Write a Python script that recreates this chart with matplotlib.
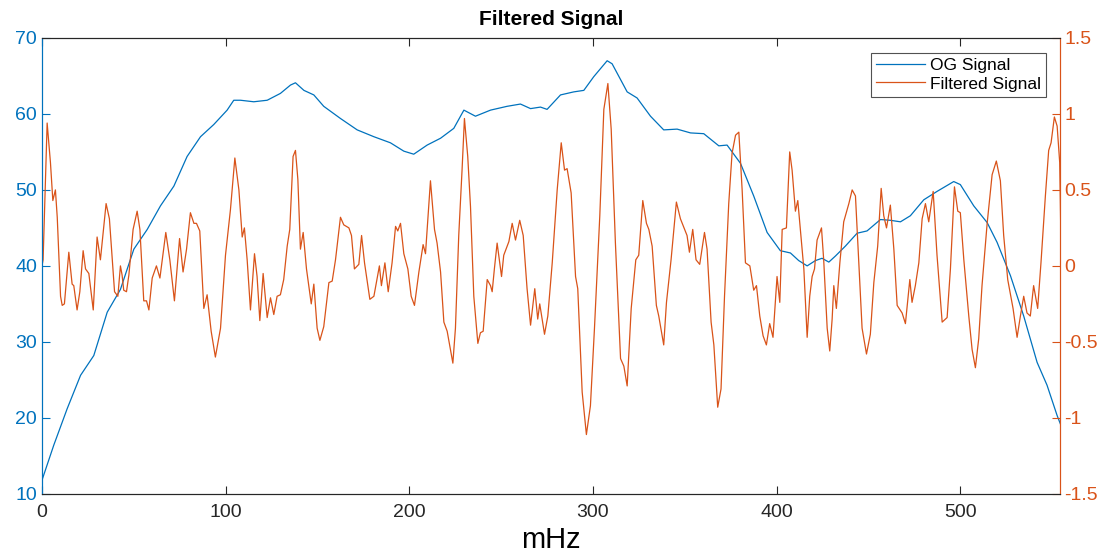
import numpy as np
import matplotlib.pyplot as plt

plt.rcParams['font.family'] = ['Liberation Sans', 'DejaVu Sans']

# OG signal (left axis)
og_x = [0, 6.4, 13.7, 21, 28.2, 35.5, 42.7, 50, 57.3, 64.5, 71.8, 79, 86.3, 93.5,
        100.8, 104.4, 108.1, 115.3, 122.6, 129.8, 135.3, 138, 142.6, 148, 153.4,
        162.5, 171.6, 180.7, 189.7, 197, 202.4, 209.7, 217, 224.2, 229.7, 236,
        244.2, 253.2, 260.5, 266, 271.4, 275, 282.3, 289.5, 295, 300.4, 307.7,
        310.4, 318.6, 324, 331.3, 338.5, 345.8, 353.1, 360.3, 368.5, 373, 380.3,
        387.5, 394.8, 402, 407.5, 412, 416.6, 421.1, 424.7, 428.4, 432, 437.4,
        443.8, 449.2, 456.5, 461.9, 467.4, 472.8, 480.1, 487.3, 496.4, 500,
        507.3, 514.6, 520, 527.3, 534.5, 541.8, 547.2, 552.7, 554.8]
og_y = [11.8, 16.4, 21.2, 25.6, 28.2, 33.9, 36.9, 42.2, 44.8, 47.9, 50.5, 54.4,
        57.0, 58.6, 60.5, 61.8, 61.8, 61.6, 61.8, 62.7, 63.8, 64.1, 63.1, 62.5,
        61.0, 59.4, 57.9, 57.0, 56.2, 55.1, 54.7, 55.9, 56.8, 58.1, 60.5, 59.7,
        60.5, 61.0, 61.3, 60.7, 60.9, 60.6, 62.5, 62.9, 63.1, 64.9, 67.0, 66.6,
        62.9, 62.1, 59.7, 57.9, 58.0, 57.5, 57.4, 55.8, 55.9, 53.5, 49.2, 44.4,
        42.0, 41.7, 40.7, 40.0, 40.7, 41.0, 40.5, 41.3, 42.6, 44.3, 44.6, 46.1,
        46.0, 45.8, 46.6, 48.7, 49.8, 51.1, 50.7, 47.9, 45.7, 43.1, 38.7, 33.4,
        27.3, 24.3, 20.3, 19.0]

# Filtered signal (right axis)
flt_x = [0, 0.6, 2.8, 4.6, 5.9, 7.3, 8.3, 10.1, 11, 12.2, 14.6, 16.4, 17.3, 19.1,
         20.6, 22.4, 23.7, 25.5, 27.9, 30, 31.8, 34.9, 36.7, 39.5, 41.3, 42.7,
         43.6, 44.5, 46, 47.3, 49.6, 51.8, 53.3, 55.4, 56.9, 58.2, 60, 62.3, 64.2,
         67.4, 69.6, 72.1, 74.9, 76.8, 78.7, 80.8, 82.7, 84.1, 85.9, 88.1, 89.9,
         92.1, 94.4, 97.2, 99.9, 102.6, 105, 107.2, 109, 110.2, 111.7, 113.5,
         115.7, 117.1, 118.6, 120.4, 122.6, 124.4, 126.2, 128, 129.8, 131.6,
         133.5, 134.9, 136.7, 138, 139.3, 140.7, 142.2, 144, 146.6, 148, 149.8,
         151.3, 153.4, 156.2, 158, 159.8, 162.5, 164.3, 167.1, 168.5, 170.1,
         172.5, 174, 175.6, 178.5, 180.7, 183.7, 184.8, 186.7, 188.5, 190.6,
         192.5, 193.7, 195.2, 197, 199.2, 201, 202.8, 205.2, 207.5, 208.8, 211.5,
         213.7, 215.1, 217, 218.8, 220.6, 223.7, 225.1, 226.9, 228.7, 230, 231.8,
         233.3, 235.1, 237.3, 238.7, 240.2, 242.4, 244.2, 245.1, 246.3, 247.8,
         250.2, 251.4, 254.2, 256, 257.8, 260.1, 262, 264.1, 266, 268.3, 269.9,
         271, 273.6, 275.4, 277.8, 280.5, 282.7, 284.5, 285.9, 288.1, 290.5,
         291.7, 294.1, 296.4, 298.6, 300.8, 303.7, 305.9, 308.1, 309.9, 312.2,
         315, 316.8, 318.6, 320.8, 323.3, 324.9, 327.1, 329.1, 330.4, 332.2,
         334.5, 335.8, 338.5, 340, 342.5, 345.4, 347.6, 351.2, 352.5, 354.3,
         356.1, 358.1, 360.7, 362.1, 364.3, 365.8, 367.9, 369.7, 371.6, 373.9,
         375.7, 377.6, 379.4, 381.2, 383, 385.4, 387.5, 389, 390.8, 392.6, 394.4,
         396.2, 398, 400.2, 401.7, 403, 405.3, 407.1, 408.4, 410.2, 411.5, 412.9,
         414.8, 416.6, 418, 419.3, 420.6, 422, 424.4, 425.6, 427.5, 428.9, 430.2,
         431.1, 432.5, 434.4, 436.5, 439.3, 441.1, 442.9, 444.7, 446.5, 448.9,
         451, 452.9, 455, 456.9, 458.3, 459.8, 461.9, 463.8, 465.6, 468.3, 470.1,
         472.5, 473.7, 475.5, 477.4, 479.2, 481, 482.8, 485.2, 487.3, 490.1,
         492.8, 494.6, 496.8, 498.6, 500, 501.9, 504.6, 506.4, 508.2, 510, 511.8,
         514.6, 517.3, 519.6, 521.8, 523.6, 525.8, 528.7, 530.9, 532.7, 534.5,
         536.3, 538.1, 539.9, 542.1, 543.9, 546.3, 548.1, 549.4, 551.2, 552.7,
         554.1, 554.8]
flt_y = [0.0, 0.04, 0.94, 0.68, 0.43, 0.50, 0.32, -0.20, -0.26, -0.25, 0.09, -0.12,
         -0.13, -0.29, -0.17, 0.10, -0.02, -0.05, -0.29, 0.19, 0.04, 0.41, 0.31,
         -0.17, -0.20, 0.0, -0.06, -0.16, -0.17, -0.06, 0.24, 0.36, 0.24, -0.23,
         -0.23, -0.29, -0.08, 0.0, -0.08, 0.22, 0.04, -0.23, 0.18, -0.04, 0.11,
         0.35, 0.28, 0.28, 0.23, -0.28, -0.19, -0.43, -0.60, -0.41, 0.07, 0.37,
         0.71, 0.50, 0.19, 0.25, 0.04, -0.29, 0.08, -0.07, -0.36, -0.05, -0.34,
         -0.21, -0.32, -0.20, -0.19, -0.09, 0.13, 0.24, 0.72, 0.76, 0.57, 0.11,
         0.22, -0.02, -0.25, -0.12, -0.41, -0.49, -0.40, -0.11, -0.10, 0.04,
         0.32, 0.27, 0.25, 0.20, -0.02, 0.01, 0.20, 0.02, -0.22, -0.20, 0.0,
         -0.13, 0.02, -0.17, 0.02, 0.26, 0.23, 0.28, 0.08, -0.02, -0.20, -0.26,
         -0.04, 0.14, 0.08, 0.56, 0.24, 0.15, -0.04, -0.37, -0.43, -0.64, -0.41,
         0.20, 0.63, 0.97, 0.72, 0.39, -0.20, -0.51, -0.44, -0.43, -0.09, -0.13,
         -0.17, -0.02, 0.15, -0.07, 0.07, 0.16, 0.28, 0.17, 0.30, 0.20, -0.15,
         -0.39, -0.15, -0.35, -0.25, -0.45, -0.33, 0.02, 0.50, 0.81, 0.63, 0.64,
         0.48, -0.07, -0.15, -0.83, -1.11, -0.92, -0.41, 0.33, 1.03, 1.20, 0.90,
         0.15, -0.61, -0.66, -0.79, -0.28, 0.04, 0.07, 0.43, 0.28, 0.24, 0.13,
         -0.26, -0.33, -0.52, -0.24, 0.04, 0.42, 0.31, 0.20, 0.09, 0.24, 0.04,
         0.01, 0.22, 0.11, -0.37, -0.52, -0.93, -0.81, -0.20, 0.41, 0.74, 0.86,
         0.88, 0.50, 0.02, 0.0, -0.16, -0.13, -0.33, -0.46, -0.52, -0.38, -0.47,
         -0.07, -0.24, 0.24, 0.25, 0.75, 0.63, 0.36, 0.43, 0.24, -0.02, -0.47,
         -0.20, -0.07, -0.02, 0.17, 0.25, 0.04, -0.41, -0.56, -0.35, -0.13,
         -0.28, 0.02, 0.29, 0.41, 0.50, 0.46, 0.02, -0.41, -0.58, -0.45, -0.11,
         0.13, 0.51, 0.33, 0.25, 0.40, 0.11, -0.26, -0.31, -0.38, -0.09, -0.24,
         -0.13, 0.02, 0.31, 0.41, 0.29, 0.49, 0.07, -0.37, -0.34, -0.02, 0.52,
         0.36, 0.35, 0.04, -0.33, -0.55, -0.67, -0.48, -0.13, 0.28, 0.60, 0.69,
         0.56, 0.20, -0.09, -0.28, -0.47, -0.33, -0.20, -0.31, -0.33, -0.13,
         -0.28, 0.02, 0.46, 0.76, 0.81, 0.98, 0.92, 0.68, 0.15]

blue = '#0072BD'
orange = '#D95319'
dark = '#262626'

fig = plt.figure(figsize=(11.2, 5.58), dpi=100)
ax = fig.add_axes([0.0375, 0.115, 0.9085, 0.817])
ax2 = ax.twinx()

l1, = ax.plot(og_x, og_y, color=blue, lw=0.9, label='OG Signal')
l2, = ax2.plot(flt_x, flt_y, color=orange, lw=0.9, label='Filtered Signal')

ax.set_xlim(0, 554)
ax.set_ylim(10, 70)
ax2.set_ylim(-1.5, 1.5)
ax.set_xticks([0, 100, 200, 300, 400, 500])
ax.set_yticks(np.arange(10, 71, 10))
ax2.set_yticks([-1.5, -1, -0.5, 0, 0.5, 1, 1.5])
ax2.set_yticklabels(['-1.5', '-1', '-0.5', '0', '0.5', '1', '1.5'])

ax.tick_params(axis='x', direction='in', top=True, colors=dark, labelsize=14,
               length=6, pad=7)
ax.tick_params(axis='y', direction='in', colors=blue, labelsize=14, length=6)
ax2.tick_params(axis='y', direction='in', colors=orange, labelsize=14, length=6)

for a in (ax, ax2):
    a.spines['top'].set_color(dark)
    a.spines['bottom'].set_color(dark)
    a.spines['left'].set_color(blue)
    a.spines['right'].set_color(orange)
    for s in a.spines.values():
        s.set_linewidth(0.8)

ax.set_xlabel('mHz', fontsize=21, color='black', labelpad=4)
ax.set_title('Filtered Signal', fontsize=15, fontweight='bold', pad=9)

leg = ax2.legend([l1, l2], ['OG Signal', 'Filtered Signal'], loc='upper right',
                 bbox_to_anchor=(0.987, 0.968), fancybox=False, fontsize=12.5,
                 handlelength=2.8, borderpad=0.3, labelspacing=0.2,
                 handletextpad=0.3, borderaxespad=0)
leg.get_frame().set_edgecolor(dark)
leg.get_frame().set_linewidth(0.8)

fig.savefig('out.png', dpi=100)
